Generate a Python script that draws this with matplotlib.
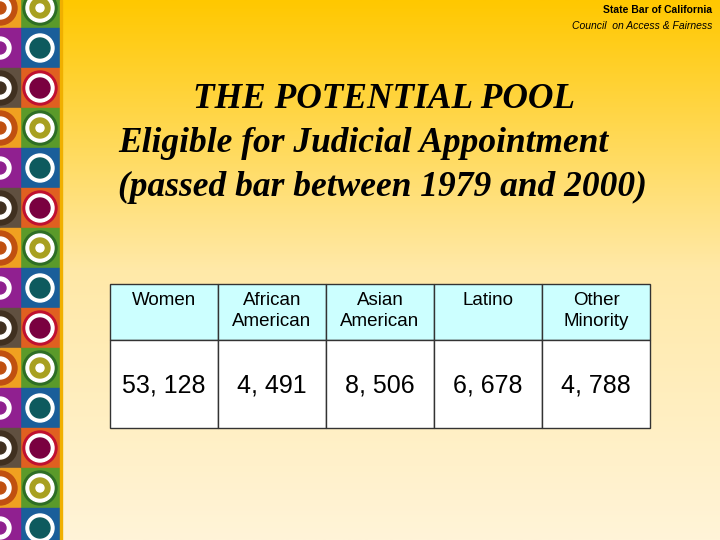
import matplotlib.pyplot as plt
from matplotlib.patches import Rectangle, Circle
from matplotlib.colors import LinearSegmentedColormap
import numpy as np

# Table data
categories = ['Women', 'African\nAmerican', 'Asian\nAmerican', 'Latino', 'Other\nMinority']
counts = ['53, 128', '4, 491', '8, 506', '6, 678', '4, 788']

# Decorative tile palette (square colour, outer ring, centre)
tiles = [('#5a9a2a', '#2e6e24', '#a8a020'),
         ('#1a5e9a', '#1a5e9a', '#0e5a5e'),
         ('#e06020', '#c01030', '#7a0040')]
left_tiles = [('#f0a020', '#c05010'), ('#902090', '#902090'), ('#605040', '#403020')]

fig = plt.figure(figsize=(7.2, 5.4), dpi=100)
ax = fig.add_axes([0, 0, 1, 1])
ax.set_xlim(0, 720)
ax.set_ylim(540, 0)
ax.axis('off')

# background gradient
grad = np.linspace(0, 1, 256).reshape(-1, 1)
cmap = LinearSegmentedColormap.from_list('bg', ['#ffc800', '#ffe9a8', '#fff4d8'])
ax.imshow(grad, cmap=cmap, extent=[0, 720, 540, 0], aspect='auto', zorder=0)

# left stripe of tiles
size = 40
y0 = -12
for i in range(15):
    y = y0 + i * size
    sq, ring, mid = tiles[i % 3]
    ax.add_patch(Rectangle((20, y), size, size, color=sq, zorder=1))
    ax.add_patch(Circle((40, y + 20), 17, color=ring, zorder=2))
    ax.add_patch(Circle((40, y + 20), 14, color='white', zorder=3))
    ax.add_patch(Circle((40, y + 20), 10, color=mid, zorder=4))
    if mid == '#a8a020':
        ax.add_patch(Circle((40, y + 20), 4, color='white', zorder=5))
    lsq, lring = left_tiles[i % 3]
    ax.add_patch(Rectangle((0, y), 20, size, color=lsq, zorder=1))
    ax.add_patch(Circle((0, y + 20), 17, color=lring, zorder=2))
    ax.add_patch(Circle((0, y + 20), 11, color='white', zorder=3))
    ax.add_patch(Circle((0, y + 20), 6, color=lring, zorder=4))
ax.add_patch(Rectangle((60, 0), 2, 540, color='#f0b000', zorder=1))

# header text
ax.text(712, 10, 'State Bar of California', ha='right', va='center', fontsize=7.5,
        fontweight='bold', family='Liberation Sans')
ax.text(712, 26, 'Council  on Access & Fairness', ha='right', va='center', fontsize=7.5,
        style='italic', family='Liberation Sans')

ax.text(384, 100, 'THE POTENTIAL POOL', ha='center', va='center', fontsize=25.5,
        style='italic', fontweight='bold', family='Liberation Serif')
ax.text(118, 144, 'Eligible for Judicial Appointment', ha='left', va='center', fontsize=25.5,
        style='italic', fontweight='bold', family='Liberation Serif')
ax.text(118, 187, '(passed bar between 1979 and 2000)', ha='left', va='center', fontsize=25.5,
        style='italic', fontweight='bold', family='Liberation Serif')

# table
x_left, col_w = 110, 108
top, head_h, row_h = 284, 56, 88
for i, (cat, val) in enumerate(zip(categories, counts)):
    x = x_left + i * col_w
    ax.add_patch(Rectangle((x, top), col_w, head_h, facecolor='#ccffff',
                           edgecolor='#333333', lw=1, zorder=5))
    ax.add_patch(Rectangle((x, top + head_h), col_w, row_h, facecolor='white',
                           edgecolor='#333333', lw=1, zorder=5))
    ax.text(x + col_w / 2, top + 8, cat, ha='center', va='top', fontsize=13.5,
            family='Liberation Sans', linespacing=1.3, zorder=6)
    ax.text(x + col_w / 2, top + head_h + 45, val, ha='center', va='center', fontsize=18,
            family='Liberation Sans', zorder=6)

fig.savefig('out.png', dpi=100)
